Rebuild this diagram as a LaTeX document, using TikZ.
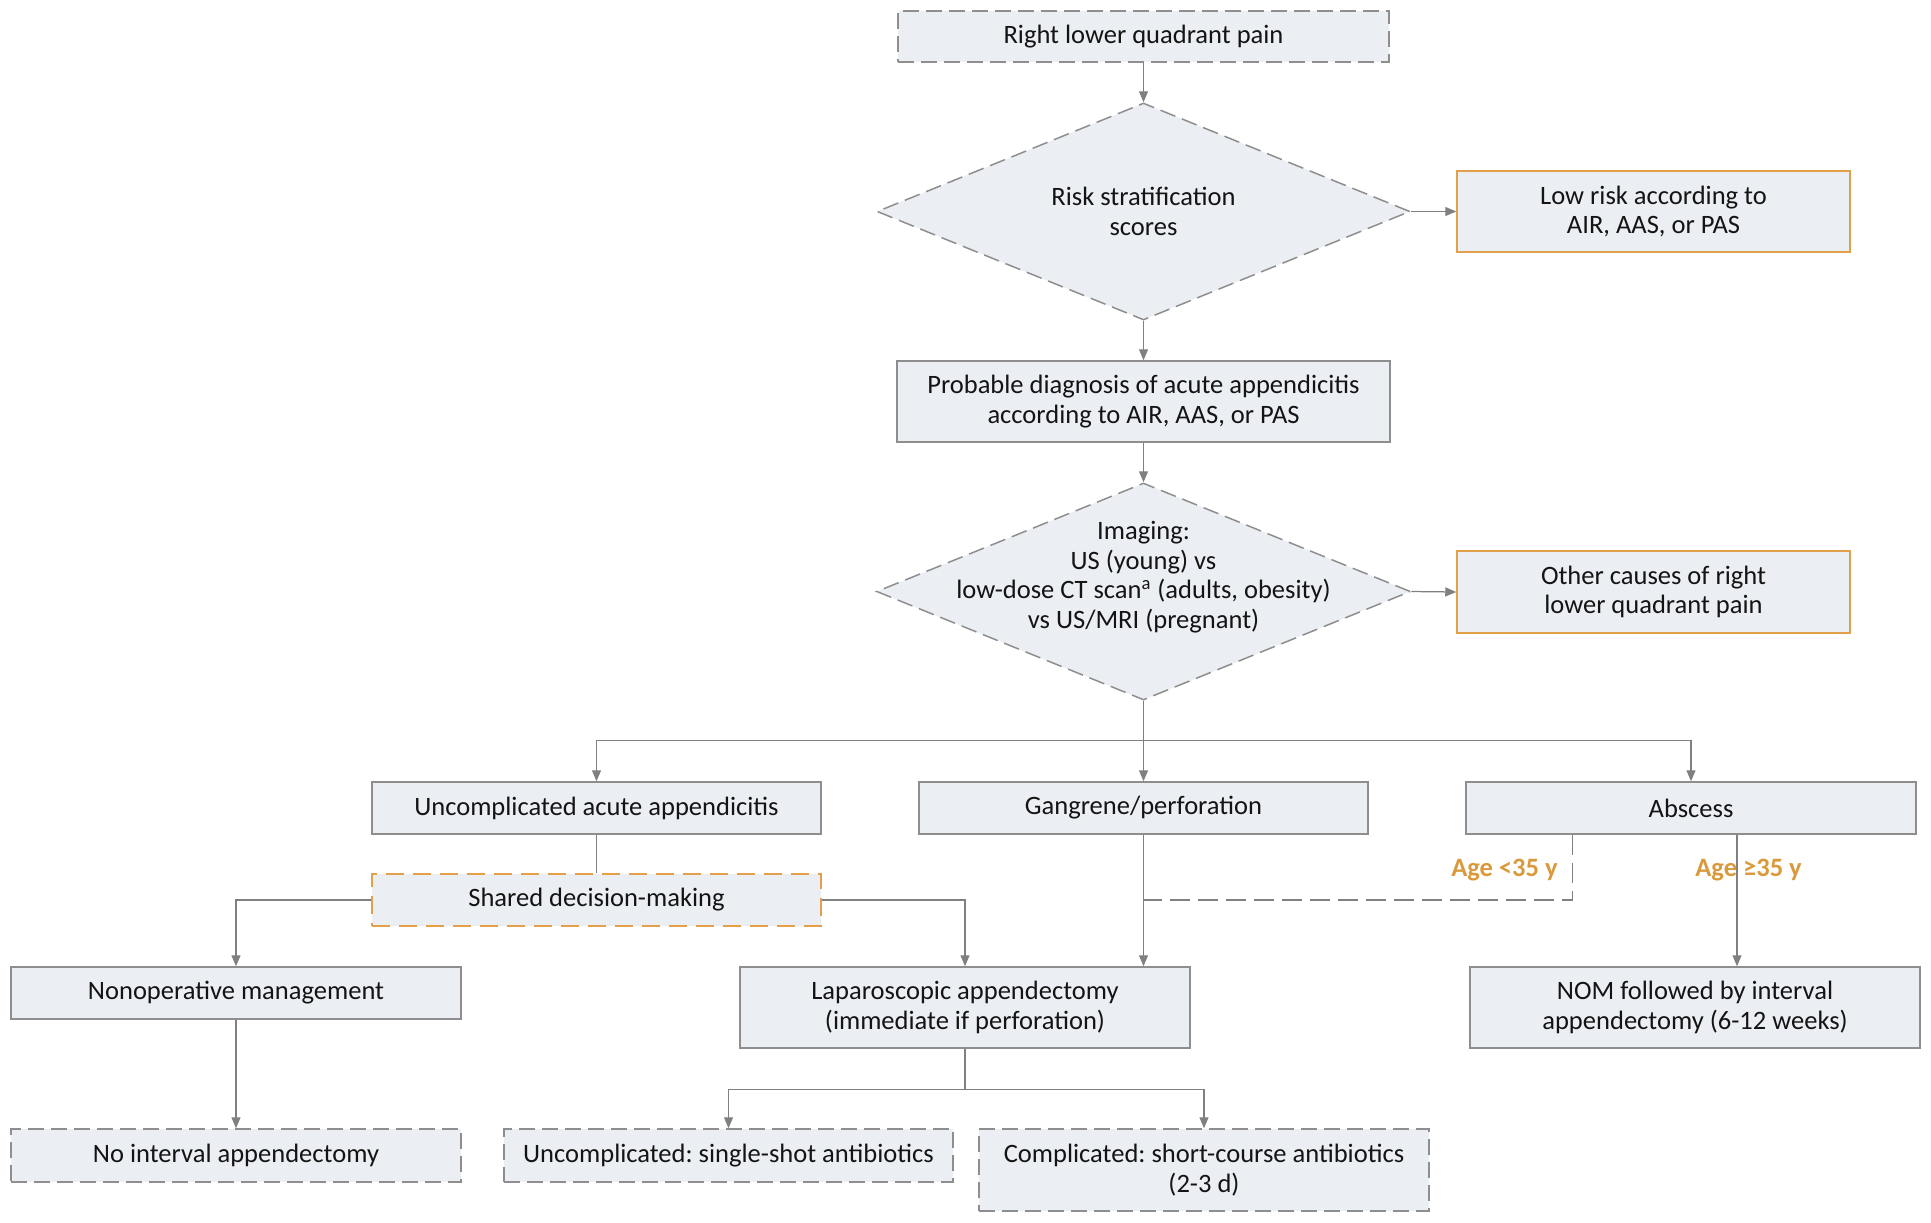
\documentclass[tikz,border=0pt]{standalone}
\usepackage{fontspec}
\setmainfont{Carlito}
\usepackage{tikz}
\usetikzlibrary{arrows.meta,positioning,shapes.geometric}
\definecolor{cFill}{HTML}{EBEEF3}
\definecolor{cLine}{HTML}{8E8E8E}
\definecolor{cArw} {HTML}{808080}
\definecolor{cOrg} {HTML}{E3A04A}
\definecolor{cAge} {HTML}{D99A3E}
\newcommand\fsz{\fontsize{15.1}{16.8}\selectfont}
\frenchspacing
\tikzset{
  box/.style     ={draw=cLine,fill=cFill,line width=0.3mm,align=center,
                   inner sep=0pt,font=\fsz,text=black!92},
  dbox/.style    ={box,dash pattern=on 3.2mm off 1.4mm},
  obox/.style    ={box,draw=cOrg},
  odbox/.style   ={obox,dash pattern=on 3.6mm off 1.8mm},
  decision/.style={diamond,draw=cLine,fill=cFill,line width=0.3mm,inner sep=0pt,
                   dash pattern=on 3.2mm off 1.4mm},
  txt/.style     ={align=center,inner sep=0pt,font=\fsz,text=black!92},
  arr/.style     ={-{Triangle[length=2.2mm,width=1.8mm]},draw=cArw,line width=0.25mm},
  link/.style    ={draw=cArw,line width=0.25mm},
  agedash/.style ={link,dash pattern=on 4mm off 1.6mm},
  age/.style     ={font=\fsz\bfseries,text=cAge,inner sep=0pt},
}

\begin{document}
\begin{tikzpicture}[x=0.2mm,y=0.2mm]
\useasboundingbox (0,0) rectangle (1931,-1222);

% top of the pathway
\node[dbox,minimum width=98.2mm,minimum height=10.2mm] (rlq) at (1143.5,-36.5)
  {Right lower quadrant pain};
\node[decision,minimum width=106.6mm,minimum height=43.4mm] (risk) at (1143.5,-211.5) {};
\node[txt] (risktxt) at (risk) {Risk stratification\\scores};
\node[obox,minimum width=78.6mm,minimum height=16.2mm] (lowrisk) at (1653.5,-211.5)
  {Low risk according to\\AIR, AAS, or PAS};
\draw[arr] (rlq.south) -- (risk.north);
\draw[arr] (risk.east) -- (lowrisk.west);

\node[box,minimum width=98.6mm,minimum height=16.2mm] (probable) at (1143.5,-401.5)
  {Probable diagnosis of acute appendicitis\\according to AIR, AAS, or PAS};
\draw[arr] (risk.south) -- (probable.north);

\node[decision,minimum width=106.8mm,minimum height=43.4mm] (imaging) at (1143.5,-591.5) {};
\node[txt] (imgtxt) at ([yshift=2.9mm]imaging.center)
  {Imaging:\\US (young) vs\\low-dose CT scan\textsuperscript{a} (adults, obesity)\\vs US/MRI (pregnant)};
\node[obox,minimum width=78.6mm,minimum height=16.4mm] (other) at (1653.5,-592)
  {Other causes of right\\lower quadrant pain};
\draw[arr] (probable.south) -- (imaging.north);
\draw[arr] (imaging.east) -- (other.west);

% findings on imaging
\node[box,minimum width=89.8mm,minimum height=10.4mm] (uncompl) at (596.5,-808)
  {Uncomplicated acute appendicitis};
\node[box,minimum width=89.8mm,minimum height=10.4mm] (gangrene) at (1143.5,-808)
  {Gangrene/perforation};
\node[box,minimum width=90mm,minimum height=10.4mm] (abscess) at (1691,-808)
  {Abscess};
\path (imaging.south) ++(0,-40) coordinate (fork);
\draw[arr] (imaging.south) -- (gangrene.north);
\draw[arr] (fork) -| (uncompl.north);
\draw[arr] (fork) -| (abscess.north);

\node[odbox,minimum width=89.8mm,minimum height=10.4mm] (shared) at (596.5,-900)
  {Shared decision-making};
\draw[link] (uncompl.south) -- (shared.north);

\node[box,minimum width=90mm,minimum height=10.4mm] (nonop) at (236,-993)
  {Nonoperative management};
\node[box,minimum width=90mm,minimum height=16.2mm] (lap) at (965,-1007.5)
  {Laparoscopic appendectomy\\(immediate if perforation)};
\node[box,minimum width=90mm,minimum height=16.2mm] (nom) at (1695,-1007.5)
  {NOM followed by interval\\appendectomy (6-12 weeks)};
\draw[arr] (shared.west) -| (nonop.north);
\draw[arr] (shared.east) -| (lap.north);
\draw[arr] (gangrene.south) -- (gangrene.south |- lap.north);

% abscess by age
\coordinate (young) at ([xshift=21.5mm]abscess.south west);
\coordinate (older) at ([xshift=9.2mm]abscess.south);
\draw[agedash] (young) |- (gangrene.south |- shared.east);
\draw[arr] (older) -- (older |- nom.north);
\node[age,anchor=east] (agelow) at (1558,-870) {Age <35 y};
\node[age,anchor=west] (agehigh) at (1695,-870) {Age ≥35 y};

% after treatment
\node[dbox,minimum width=90mm,minimum height=10.6mm] (noint) at (236,-1155.5)
  {No interval appendectomy};
\node[dbox,minimum width=89.8mm,minimum height=10.6mm] (single) at (728.5,-1155.5)
  {Uncomplicated: single-shot antibiotics};
\node[dbox,minimum width=90mm,minimum height=16.4mm] (short) at (1204,-1170)
  {Complicated: short-course antibiotics\\(2-3 d)};
\path (lap.south) ++(0,-41) coordinate (lapfork);
\draw[arr] (nonop.south) -- (noint.north);
\draw[link] (lap.south) -- (lapfork);
\draw[arr] (lapfork) -| (single.north);
\draw[arr] (lapfork) -| (short.north);
\end{tikzpicture}
\end{document}
